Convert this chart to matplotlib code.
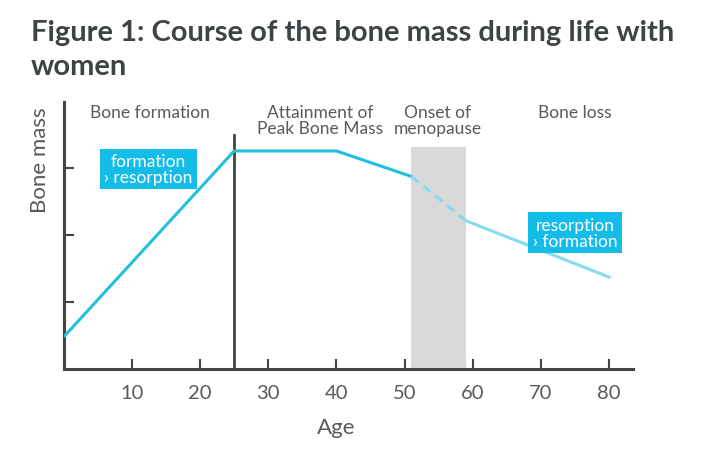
import matplotlib
matplotlib.use("Agg")
import matplotlib.pyplot as plt

# --- data ---
ages = [0, 25, 40, 51]
mass = [0.48, 3.25, 3.25, 2.87]
dash_ages = [51, 59]
dash_mass = [2.87, 2.21]
loss_ages = [59, 80]
loss_mass = [2.21, 1.37]

xticks = [10, 20, 30, 40, 50, 60, 70, 80]
yticks = [1, 2, 3]
menopause = (51, 59)
peak_age = 25

phase_labels = ["Bone formation", "Attainment of\nPeak Bone Mass", "Onset of\nmenopause", "Bone loss"]
phase_x = [12.6, 37.6, 54.9, 75.0]

box_labels = ["formation\n› resorption", "resorption\n› formation"]
box_x = [12.4, 75.0]
box_y = [2.98, 2.03]

line_col = "#22c0dc"
light_col = "#86dcec"
box_col = "#14bce8"
axis_col = "#444444"
text_col = "#5a5a5a"

plt.rcParams['font.family'] = ['Lato', 'DejaVu Sans']

fig = plt.figure(figsize=(7.2, 4.77), dpi=100)
ax = fig.add_axes([0.0886, 0.2243, 0.7905, 0.5598])

ax.set_xlim(0, 83.5)
ax.set_ylim(0, 3.98)

# menopause band
ax.fill_between(list(menopause), 0, 3.31, color="#d9d9d9", lw=0, zorder=1)

# peak bone mass divider
ax.plot([peak_age, peak_age], [0, 3.49], color=axis_col, lw=2, zorder=2)

# the curve
ax.plot(ages, mass, color=line_col, lw=2.2, zorder=3, solid_capstyle="butt")
ax.plot(dash_ages, dash_mass, color=light_col, lw=2.2, ls=(0, (3, 2)), zorder=3)
ax.plot(loss_ages, loss_mass, color=light_col, lw=2.2, zorder=3)

# phase labels
for lab, x in zip(phase_labels, phase_x):
    ax.text(x, 3.95, lab, ha="center", va="top", fontsize=12.5, color=text_col,
            linespacing=1.0, zorder=4)

# callout boxes
for lab, x, y in zip(box_labels, box_x, box_y):
    ax.text(x, y, lab, ha="center", va="center", fontsize=12.5, color="white",
            linespacing=1.0, zorder=5,
            bbox=dict(boxstyle="square,pad=0.25", fc=box_col, ec="none"))

# axes styling
for s in ["top", "right"]:
    ax.spines[s].set_visible(False)
for s in ["left", "bottom"]:
    ax.spines[s].set_color(axis_col)
    ax.spines[s].set_linewidth(2.2)

ax.set_xticks(xticks)
ax.set_xticklabels([str(t) for t in xticks])
ax.set_yticks(yticks)
ax.set_yticklabels([])
ax.tick_params(axis="both", direction="in", length=7, width=1.5, color=axis_col)
ax.tick_params(axis="x", labelsize=14.5, labelcolor=text_col, pad=11)

ax.text(40, -0.86, "Age", ha="center", va="center", fontsize=16, color=text_col)
fig.text(0.055, 0.665, "Bone mass", rotation=90, ha="center", va="center",
         fontsize=16, color=text_col)

fig.text(0.043, 0.958, "Figure 1: Course of the bone mass during life with\nwomen",
         ha="left", va="top", fontsize=21, fontweight="bold", color="#3e4346",
         linespacing=1.38)

fig.savefig("out.png", dpi=100)
